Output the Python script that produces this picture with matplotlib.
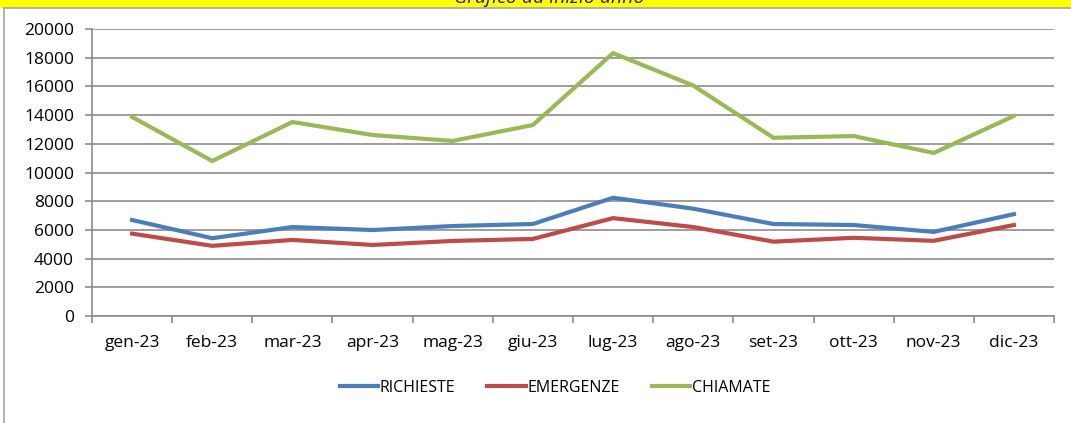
#!/usr/bin/env python3
"""Grafico da inizio anno — richieste / emergenze / chiamate 2023"""
import matplotlib
matplotlib.use("Agg")
import matplotlib.pyplot as plt
from matplotlib.patches import Rectangle
from matplotlib.lines import Line2D

mesi = ['gen-23', 'feb-23', 'mar-23', 'apr-23', 'mag-23', 'giu-23',
        'lug-23', 'ago-23', 'set-23', 'ott-23', 'nov-23', 'dic-23']
richieste = [6690, 5420, 6200, 5990, 6270, 6410, 8240, 7480, 6410, 6340, 5860, 7100]
emergenze = [5740, 4890, 5300, 4950, 5230, 5370, 6820, 6200, 5180, 5450, 5240, 6340]
chiamate = [13870, 10800, 13520, 12610, 12200, 13310, 18320, 16060, 12420, 12540, 11360, 13940]

colori = {'RICHIESTE': '#4A7EBB', 'EMERGENZE': '#BE4B48', 'CHIAMATE': '#98B954'}

plt.rcParams['font.family'] = ['Open Sans', 'DejaVu Sans']

fig = plt.figure(figsize=(10.71, 4.23), dpi=100)

# ── banda gialla del titolo (tagliata in alto, come nell'originale) ──
fig.patches.append(Rectangle((0, 1 - 8 / 423), 1, 8 / 423, transform=fig.transFigure,
                             facecolor='#FFFF00', edgecolor='none', zorder=0))
fig.text(0.513, 1 - 3 / 423, 'Grafico da inizio anno', ha='center', va='baseline',
         fontsize=14, style='italic', color='#222222')
# cornice
fig.add_artist(Line2D([4 / 1071, 1], [1 - 8.5 / 423] * 2, transform=fig.transFigure,
                      color='#A6A6A6', lw=1.2))
fig.add_artist(Line2D([4 / 1071] * 2, [0, 1 - 8.5 / 423], transform=fig.transFigure,
                      color='#A6A6A6', lw=1.2))

ax = fig.add_axes([92 / 1071, 1 - 316 / 423, (1054 - 92) / 1071, (316 - 29) / 423])

x = range(len(mesi))
for nome, serie in [('RICHIESTE', richieste), ('EMERGENZE', emergenze), ('CHIAMATE', chiamate)]:
    ax.plot(x, serie, color=colori[nome], lw=3.0, label=nome, solid_joinstyle='miter', zorder=3)

ax.set_ylim(0, 20000)
ax.set_xlim(-0.5, len(mesi) - 0.5)
ax.set_yticks(range(0, 20001, 2000))
ax.grid(axis='y', color='#8C8C8C', lw=1.2)
ax.set_axisbelow(True)

# tick maggiori ai bordi delle categorie, etichette al centro
ax.set_xticks([i - 0.5 for i in range(len(mesi) + 1)])
ax.set_xticklabels([])
ax.set_xticks(list(x), minor=True)
ax.set_xticklabels(mesi, minor=True)
ax.tick_params(axis='x', which='major', length=5, color='#8C8C8C', width=1.2)
ax.tick_params(axis='x', which='minor', length=0, pad=14, labelsize=12.5)
ax.tick_params(axis='y', length=5, color='#8C8C8C', width=1.2, labelsize=12.5, pad=8)

for s in ['top', 'right']:
    ax.spines[s].set_visible(False)
for s in ['left', 'bottom']:
    ax.spines[s].set_color('#8C8C8C')
    ax.spines[s].set_linewidth(1.2)

fig.legend(loc='center', bbox_to_anchor=(555 / 1071, 1 - 388 / 423), ncol=3,
           frameon=False, fontsize=11.5, handlelength=2.4, handletextpad=0.1,
           columnspacing=2.0)

plt.savefig('out.png', dpi=100)
